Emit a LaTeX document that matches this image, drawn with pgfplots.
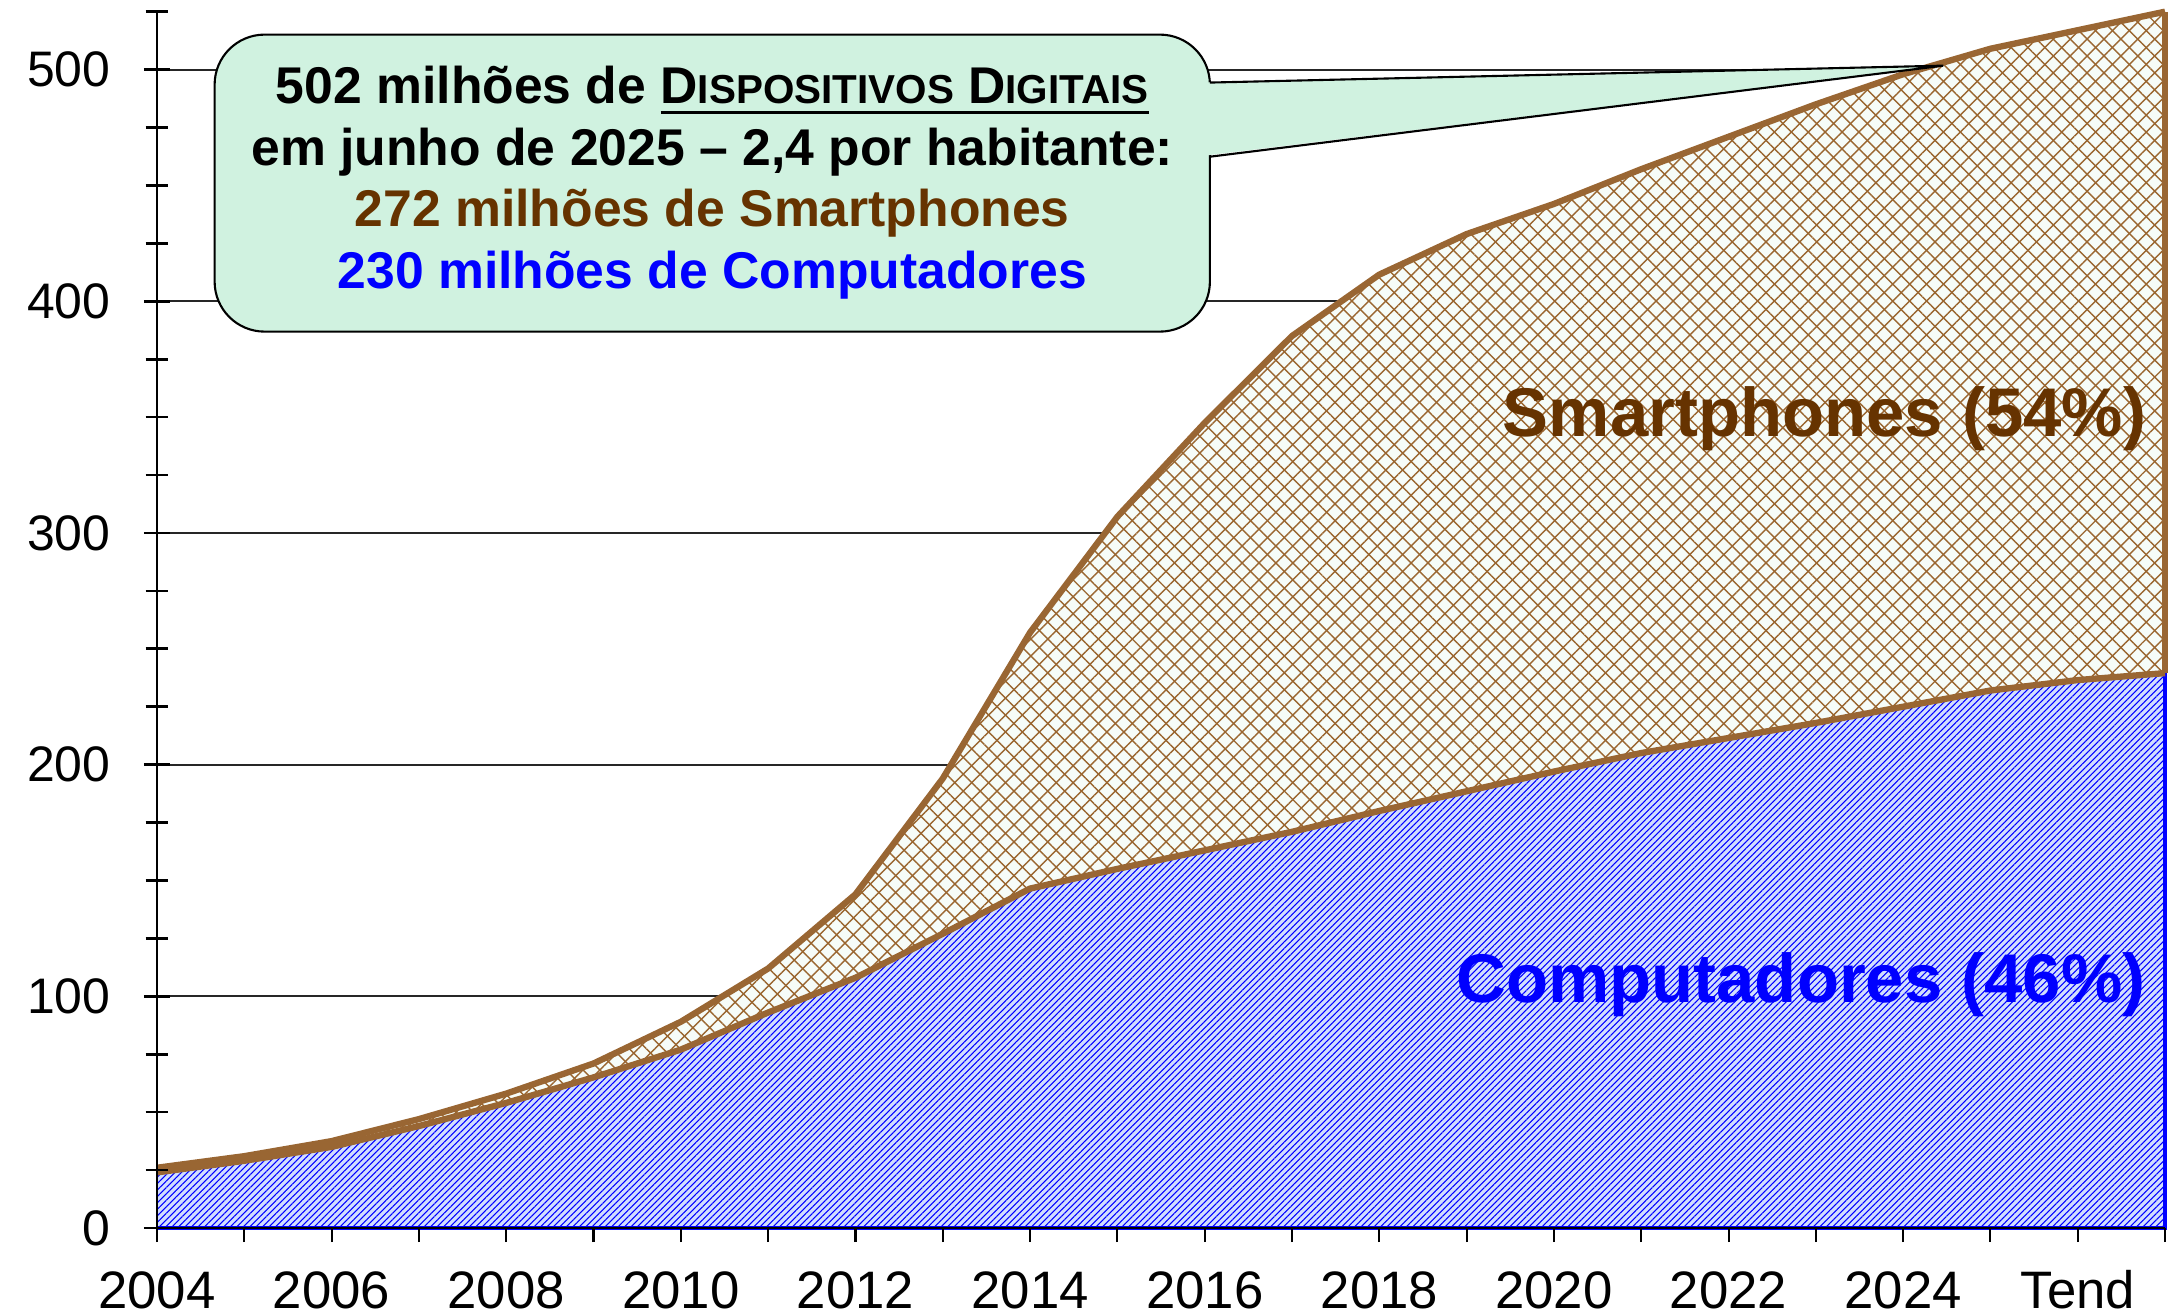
\documentclass[border=0pt]{standalone}
\usepackage{fontspec}
\setmainfont{Liberation Sans}
\usepackage{pgfplots}
\pgfplotsset{compat=1.18}
\usepackage{pgfplotstable}
\usepgfplotslibrary{fillbetween}
\usetikzlibrary{patterns.meta}

\definecolor{linebrown}{HTML}{996633}
\definecolor{textbrown}{HTML}{663300}
\definecolor{hatchbrown}{HTML}{9A6630}
\definecolor{smartbg}{HTML}{F6FCF8}
\definecolor{compbg}{HTML}{D2DEFF}
\definecolor{mint}{HTML}{D0F2E0}

% thick underline for the callout heading
\newcommand{\thickul}[1]{\setbox0\hbox{#1}\rlap{\rule[-3pt]{\wd0}{0.9pt}}\box0}
\newcommand{\fakesc}[1]{{\fontsize{11.5}{12}\selectfont #1}}

% millions of devices: computers and total (computers + smartphones)
\pgfplotstableread{
year comp total
2004 24 26
2005 29 31
2006 35 37.5
2007 44 47
2008 54 58
2009 65 71
2010 77 89
2011 93 112
2012 108 144
2013 127 194
2014 146.5 257
2015 155 307
2016 163 347.5
2017 171 385
2018 180 411.5
2019 188.5 429
2020 197 442
2021 205 457
2022 211.5 471
2023 218 485
2024 225 498
2025 232 509
2026 236.5 517
2027 239.5 525
}\devices

\begin{document}
\begin{tikzpicture}
\pgfplotsset{common/.style={width=20.08cm, height=12.163cm, scale only axis,
    xmin=2004, xmax=2027, ymin=0, ymax=525, no markers}}

% areas, grid and annotations
\begin{axis}[common, clip=false,
    axis line style={draw=none},
    xtick=\empty, ytick={100,200,300,400,500}, yticklabels={},
    tick style={draw=none},
    ymajorgrids, grid style={black!85, line width=0.55pt}]
\addplot[draw=none, name path=base] coordinates {(2004,0) (2027,0)};
\addplot[draw=none, name path=comp] table[x=year, y=comp] {\devices};
\addplot[draw=none, name path=total] table[x=year, y=total] {\devices};

\addplot[fill=compbg, draw=none] fill between[of=comp and base];
\addplot[draw=none, pattern={Lines[angle=45, distance=1.3pt, line width=0.3pt]},
    pattern color=blue] fill between[of=comp and base];
\addplot[fill=smartbg, draw=none] fill between[of=total and comp];
\addplot[draw=none, pattern={Lines[angle=45, distance=3.4pt, line width=0.4pt]},
    pattern color=hatchbrown] fill between[of=total and comp];
\addplot[draw=none, pattern={Lines[angle=-45, distance=3.4pt, line width=0.4pt]},
    pattern color=hatchbrown] fill between[of=total and comp];

\addplot[blue, line width=1.3pt] coordinates {(2004,0) (2027,0) (2027,239.5)};
\addplot[linebrown, line width=1.8pt, line join=round] table[x=year, y=comp] {\devices};
\addplot[linebrown, line width=1.8pt, line join=round] table[x=year, y=total] {\devices};
\addplot[linebrown, line width=1.8pt] coordinates {(2027,239.5) (2027,525)};

% callout
\draw[fill=mint, line width=0.6pt, rounded corners=0.5cm]
    (axis cs:2004.66,386.9) rectangle (axis cs:2016.06,515.1);
\fill[mint] (axis cs:2015.9,494.4) -- (axis cs:2024.46,501.7) -- (axis cs:2015.9,462.4) -- cycle;
\draw[line width=0.6pt] (axis cs:2016.06,494.4) -- (axis cs:2024.46,501.7) -- (axis cs:2016.06,462.4);
\node[align=center, font=\bfseries\fontsize{14.7}{17.6}\selectfont]
    at (axis cs:2010.36,451.2)
    {502 milhões de \thickul{D\fakesc{ISPOSITIVOS} D\fakesc{IGITAIS}}\\
     em junho de 2025 – 2,4 por habitante:\\
     \textcolor{textbrown}{272 milhões de Smartphones}\\
     \textcolor{blue}{230 milhões de Computadores}};

\node[font=\bfseries\fontsize{19.6}{22}\selectfont, text=textbrown]
    at (axis cs:2023.1,349.3) {Smartphones (54\%)};
\node[font=\bfseries\fontsize{19.6}{22}\selectfont, text=blue]
    at (axis cs:2022.83,105) {Computadores (46\%)};

\coordinate (BL) at (rel axis cs:0,0);
\coordinate (TR) at (rel axis cs:1,1);
\end{axis}

% y axis
\begin{axis}[common,
    axis x line=none, axis y line*=left,
    xtick=\empty,
    ytick={0,100,...,500}, minor ytick={0,25,...,525},
    tick align=center, major tick length=7.5pt, minor tick length=6.5pt,
    y axis line style={line width=0.75pt},
    tick style={black, line width=0.75pt},
    /pgf/number format/assume math mode=true,
    yticklabel style={font=\fontsize{14.2}{16}\selectfont, anchor=east,
        inner sep=0pt, xshift=-9.3pt}]
\end{axis}

% x axis
\begin{axis}[common,
    axis y line=none, axis x line*=bottom,
    ytick=\empty,
    xtick={2004,2006,...,2026},
    xticklabels={2004,2006,2008,2010,2012,2014,2016,2018,2020,2022,2024,Tend},
    minor xtick={2005,2007,...,2027},
    tick align=outside, major tick length=4pt, minor tick length=4pt,
    x axis line style={line width=0.85pt},
    tick style={black, line width=0.6pt},
    /pgf/number format/assume math mode=true,
    xticklabel style={font=\fontsize{15}{17}\selectfont, anchor=north,
        inner sep=0pt, text height=11pt, text depth=0pt, yshift=-7.8pt}]
\end{axis}

\pgfresetboundingbox
\path[use as bounding box] ([shift={(-1.57cm,-0.87cm)}]BL) rectangle ([shift={(0.13cm,0.117cm)}]TR);
\end{tikzpicture}
\end{document}
